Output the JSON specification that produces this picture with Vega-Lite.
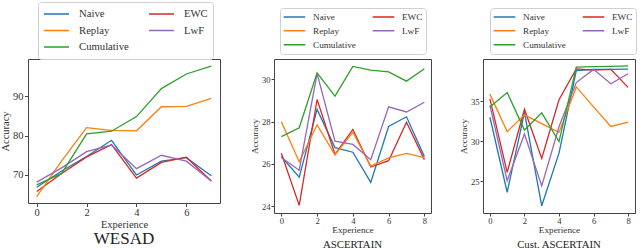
{
  "$schema": "https://vega.github.io/schema/vega-lite/v6.json",
  "background": "white",
  "padding": {"left": 0, "top": 1, "right": 3, "bottom": 0},
  "config": {
    "font": "Liberation Serif",
    "view": {"stroke": "#444", "strokeWidth": 1},
    "axis": {"grid": false, "domain": false, "tickColor": "#444", "labelColor": "#333", "titleColor": "#333", "titleFontWeight": "normal", "labelFont": "Liberation Serif", "titleFont": "Liberation Serif"},
    "legend": {"labelFont": "Liberation Serif", "labelColor": "#333", "gridAlign": "each"},
    "title": {"font": "Liberation Serif", "fontWeight": "normal", "color": "#222"},
    "line": {"strokeWidth": 1.3}
  },
  "datasets": {
    "wesad": [
      {"m": "Naive", "e": 0, "a": 66.9}, {"m": "Naive", "e": 1, "a": 71.0}, {"m": "Naive", "e": 2, "a": 74.7}, {"m": "Naive", "e": 3, "a": 78.8}, {"m": "Naive", "e": 4, "a": 70.0}, {"m": "Naive", "e": 5, "a": 73.5}, {"m": "Naive", "e": 6, "a": 74.4}, {"m": "Naive", "e": 7, "a": 69.8},
      {"m": "EWC", "e": 0, "a": 65.8}, {"m": "EWC", "e": 1, "a": 70.4}, {"m": "EWC", "e": 2, "a": 74.6}, {"m": "EWC", "e": 3, "a": 77.7}, {"m": "EWC", "e": 4, "a": 69.2}, {"m": "EWC", "e": 5, "a": 73.2}, {"m": "EWC", "e": 6, "a": 74.5}, {"m": "EWC", "e": 7, "a": 68.5},
      {"m": "Replay", "e": 0, "a": 64.5}, {"m": "Replay", "e": 1, "a": 73.6}, {"m": "Replay", "e": 2, "a": 82.0}, {"m": "Replay", "e": 3, "a": 81.3}, {"m": "Replay", "e": 4, "a": 81.2}, {"m": "Replay", "e": 5, "a": 87.3}, {"m": "Replay", "e": 6, "a": 87.4}, {"m": "Replay", "e": 7, "a": 89.4},
      {"m": "LwF", "e": 0, "a": 68.2}, {"m": "LwF", "e": 1, "a": 71.8}, {"m": "LwF", "e": 2, "a": 75.9}, {"m": "LwF", "e": 3, "a": 77.6}, {"m": "LwF", "e": 4, "a": 71.6}, {"m": "LwF", "e": 5, "a": 75.0}, {"m": "LwF", "e": 6, "a": 73.5}, {"m": "LwF", "e": 7, "a": 68.5},
      {"m": "Cumulative", "e": 0, "a": 67.5}, {"m": "Cumulative", "e": 1, "a": 70.4}, {"m": "Cumulative", "e": 2, "a": 80.4}, {"m": "Cumulative", "e": 3, "a": 81.1}, {"m": "Cumulative", "e": 4, "a": 84.8}, {"m": "Cumulative", "e": 5, "a": 91.9}, {"m": "Cumulative", "e": 6, "a": 95.6}, {"m": "Cumulative", "e": 7, "a": 97.6}
    ],
    "asc": [
      {"m": "Naive", "e": 0, "a": 26.35}, {"m": "Naive", "e": 1, "a": 25.37}, {"m": "Naive", "e": 2, "a": 28.58}, {"m": "Naive", "e": 3, "a": 26.77}, {"m": "Naive", "e": 4, "a": 26.55}, {"m": "Naive", "e": 5, "a": 25.12}, {"m": "Naive", "e": 6, "a": 27.77}, {"m": "Naive", "e": 7, "a": 28.23}, {"m": "Naive", "e": 8, "a": 26.35},
      {"m": "EWC", "e": 0, "a": 26.5}, {"m": "EWC", "e": 1, "a": 24.03}, {"m": "EWC", "e": 2, "a": 29.05}, {"m": "EWC", "e": 3, "a": 26.45}, {"m": "EWC", "e": 4, "a": 27.63}, {"m": "EWC", "e": 5, "a": 25.85}, {"m": "EWC", "e": 6, "a": 26.15}, {"m": "EWC", "e": 7, "a": 27.97}, {"m": "EWC", "e": 8, "a": 26.2},
      {"m": "Replay", "e": 0, "a": 28.0}, {"m": "Replay", "e": 1, "a": 26.1}, {"m": "Replay", "e": 2, "a": 27.85}, {"m": "Replay", "e": 3, "a": 26.43}, {"m": "Replay", "e": 4, "a": 27.5}, {"m": "Replay", "e": 5, "a": 25.89}, {"m": "Replay", "e": 6, "a": 26.28}, {"m": "Replay", "e": 7, "a": 26.5}, {"m": "Replay", "e": 8, "a": 26.3},
      {"m": "LwF", "e": 0, "a": 26.3}, {"m": "LwF", "e": 1, "a": 25.7}, {"m": "LwF", "e": 2, "a": 30.28}, {"m": "LwF", "e": 3, "a": 27.08}, {"m": "LwF", "e": 4, "a": 26.92}, {"m": "LwF", "e": 5, "a": 26.2}, {"m": "LwF", "e": 6, "a": 28.7}, {"m": "LwF", "e": 7, "a": 28.46}, {"m": "LwF", "e": 8, "a": 28.92},
      {"m": "Cumulative", "e": 0, "a": 27.29}, {"m": "Cumulative", "e": 1, "a": 27.71}, {"m": "Cumulative", "e": 2, "a": 30.31}, {"m": "Cumulative", "e": 3, "a": 29.21}, {"m": "Cumulative", "e": 4, "a": 30.62}, {"m": "Cumulative", "e": 5, "a": 30.44}, {"m": "Cumulative", "e": 6, "a": 30.36}, {"m": "Cumulative", "e": 7, "a": 29.92}, {"m": "Cumulative", "e": 8, "a": 30.51}
    ],
    "cust": [
      {"m": "Naive", "e": 0, "a": 33.0}, {"m": "Naive", "e": 1, "a": 23.6}, {"m": "Naive", "e": 2, "a": 33.6}, {"m": "Naive", "e": 3, "a": 21.9}, {"m": "Naive", "e": 4, "a": 28.5}, {"m": "Naive", "e": 5, "a": 38.85}, {"m": "Naive", "e": 6, "a": 39.0}, {"m": "Naive", "e": 7, "a": 39.0}, {"m": "Naive", "e": 8, "a": 39.03},
      {"m": "EWC", "e": 0, "a": 35.3}, {"m": "EWC", "e": 1, "a": 26.1}, {"m": "EWC", "e": 2, "a": 34.0}, {"m": "EWC", "e": 3, "a": 27.85}, {"m": "EWC", "e": 4, "a": 35.2}, {"m": "EWC", "e": 5, "a": 39.07}, {"m": "EWC", "e": 6, "a": 38.9}, {"m": "EWC", "e": 7, "a": 39.0}, {"m": "EWC", "e": 8, "a": 36.75},
      {"m": "Replay", "e": 0, "a": 35.9}, {"m": "Replay", "e": 1, "a": 31.2}, {"m": "Replay", "e": 2, "a": 33.3}, {"m": "Replay", "e": 3, "a": 32.2}, {"m": "Replay", "e": 4, "a": 31.1}, {"m": "Replay", "e": 5, "a": 36.8}, {"m": "Replay", "e": 6, "a": 34.3}, {"m": "Replay", "e": 7, "a": 31.85}, {"m": "Replay", "e": 8, "a": 32.4},
      {"m": "LwF", "e": 0, "a": 34.5}, {"m": "LwF", "e": 1, "a": 25.05}, {"m": "LwF", "e": 2, "a": 30.9}, {"m": "LwF", "e": 3, "a": 24.4}, {"m": "LwF", "e": 4, "a": 31.8}, {"m": "LwF", "e": 5, "a": 37.35}, {"m": "LwF", "e": 6, "a": 39.0}, {"m": "LwF", "e": 7, "a": 37.2}, {"m": "LwF", "e": 8, "a": 38.45},
      {"m": "Cumulative", "e": 0, "a": 34.3}, {"m": "Cumulative", "e": 1, "a": 36.1}, {"m": "Cumulative", "e": 2, "a": 31.4}, {"m": "Cumulative", "e": 3, "a": 33.55}, {"m": "Cumulative", "e": 4, "a": 29.95}, {"m": "Cumulative", "e": 5, "a": 39.28}, {"m": "Cumulative", "e": 6, "a": 39.35}, {"m": "Cumulative", "e": 7, "a": 39.38}, {"m": "Cumulative", "e": 8, "a": 39.44}
    ]
  },
  "spacing": 28,
  "resolve": {"scale": {"color": "independent", "x": "independent", "y": "independent"}, "legend": {"color": "independent"}},
  "hconcat": [
    {
      "width": 192, "height": 144,
      "data": {"name": "wesad"},
      "title": {"text": "WESAD", "orient": "bottom", "fontSize": 17, "offset": 1},
      "mark": {"type": "line"},
      "encoding": {
        "x": {"field": "e", "type": "quantitative", "scale": {"domain": [-0.35, 7.35], "nice": false, "zero": false},
              "axis": {"values": [0, 2, 4, 6], "title": "Experience", "labelFontSize": 10.5, "titleFontSize": 10.5, "tickSize": 3.5, "labelPadding": 0.5, "titlePadding": 2}},
        "y": {"field": "a", "type": "quantitative", "scale": {"domain": [62.9, 99.4], "nice": false, "zero": false},
              "axis": {"values": [70, 80, 90], "title": "Accuracy", "labelFontSize": 10.5, "titleFontSize": 10.5, "tickSize": 3.5, "labelPadding": 1.5, "titlePadding": 2}},
        "color": {"field": "m", "type": "nominal",
                  "scale": {"domain": ["Naive", "Replay", "Cumulative", "EWC", "LwF"], "range": ["#1f77b4", "#ff7f0e", "#2ca02c", "#d62728", "#9467bd"]},
                  "legend": {"title": null, "orient": "none", "legendX": 10, "legendY": -57, "columns": 2, "columnPadding": 19, "rowPadding": 2.5, "clipHeight": 14,
                             "symbolType": "stroke", "symbolSize": 625, "symbolStrokeWidth": 1.5, "labelFontSize": 10.7, "labelOffset": 9,
                             "strokeColor": "#d0d0d0", "fillColor": "white", "padding": 5, "cornerRadius": 3}}
      }
    },
    {
      "spacing": 26,
      "resolve": {"scale": {"color": "independent", "x": "independent", "y": "independent"}, "legend": {"color": "independent"}},
      "hconcat": [
        {
          "width": 157, "height": 154,
          "data": {"name": "asc"},
          "title": {"text": "ASCERTAIN", "orient": "bottom", "fontSize": 10.8, "offset": 4},
          "mark": {"type": "line"},
          "encoding": {
            "x": {"field": "e", "type": "quantitative", "scale": {"domain": [-0.41, 8.37], "nice": false, "zero": false},
                  "axis": {"values": [0, 2, 4, 6, 8], "title": "Experience", "labelFontSize": 8.6, "titleFontSize": 9.2, "labelPadding": 0, "titlePadding": 1, "tickSize": 3}},
            "y": {"field": "a", "type": "quantitative", "scale": {"domain": [23.67, 30.97], "nice": false, "zero": false},
                  "axis": {"values": [24, 26, 28, 30], "title": "Accuracy", "labelFontSize": 8.6, "titleFontSize": 9.2, "labelPadding": 1, "titlePadding": 2, "tickSize": 3}},
            "color": {"field": "m", "type": "nominal",
                      "scale": {"domain": ["Naive", "Replay", "Cumulative", "EWC", "LwF"], "range": ["#1f77b4", "#ff7f0e", "#2ca02c", "#d62728", "#9467bd"]},
                      "legend": {"title": null, "orient": "none", "legendX": 6, "legendY": -51, "columns": 2, "columnPadding": 16, "rowPadding": 2, "clipHeight": 11.5,
                                 "symbolType": "stroke", "symbolSize": 467, "symbolStrokeWidth": 1.4, "labelFontSize": 9.2, "labelOffset": 7,
                                 "strokeColor": "#d0d0d0", "fillColor": "white", "padding": 3, "cornerRadius": 3}}
          }
        },
        {
          "width": 152, "height": 154,
          "data": {"name": "cust"},
          "title": {"text": "Cust. ASCERTAIN", "orient": "bottom", "fontSize": 10.8, "offset": 4},
          "mark": {"type": "line"},
          "encoding": {
            "x": {"field": "e", "type": "quantitative", "scale": {"domain": [-0.4, 8.4], "nice": false, "zero": false},
                  "axis": {"values": [0, 2, 4, 6, 8], "title": "Experience", "labelFontSize": 8.6, "titleFontSize": 9.2, "labelPadding": 0, "titlePadding": 1, "tickSize": 3}},
            "y": {"field": "a", "type": "quantitative", "scale": {"domain": [21.0, 40.3], "nice": false, "zero": false},
                  "axis": {"values": [25, 30, 35], "title": "Accuracy", "labelFontSize": 8.6, "titleFontSize": 9.2, "labelPadding": 1, "titlePadding": 2, "tickSize": 3}},
            "color": {"field": "m", "type": "nominal",
                      "scale": {"domain": ["Naive", "Replay", "Cumulative", "EWC", "LwF"], "range": ["#1f77b4", "#ff7f0e", "#2ca02c", "#d62728", "#9467bd"]},
                      "legend": {"title": null, "orient": "none", "legendX": 7, "legendY": -51, "columns": 2, "columnPadding": 16, "rowPadding": 2, "clipHeight": 11.5,
                                 "symbolType": "stroke", "symbolSize": 467, "symbolStrokeWidth": 1.4, "labelFontSize": 9.2, "labelOffset": 7,
                                 "strokeColor": "#d0d0d0", "fillColor": "white", "padding": 3, "cornerRadius": 3}}
          }
        }
      ]
    }
  ]
}
